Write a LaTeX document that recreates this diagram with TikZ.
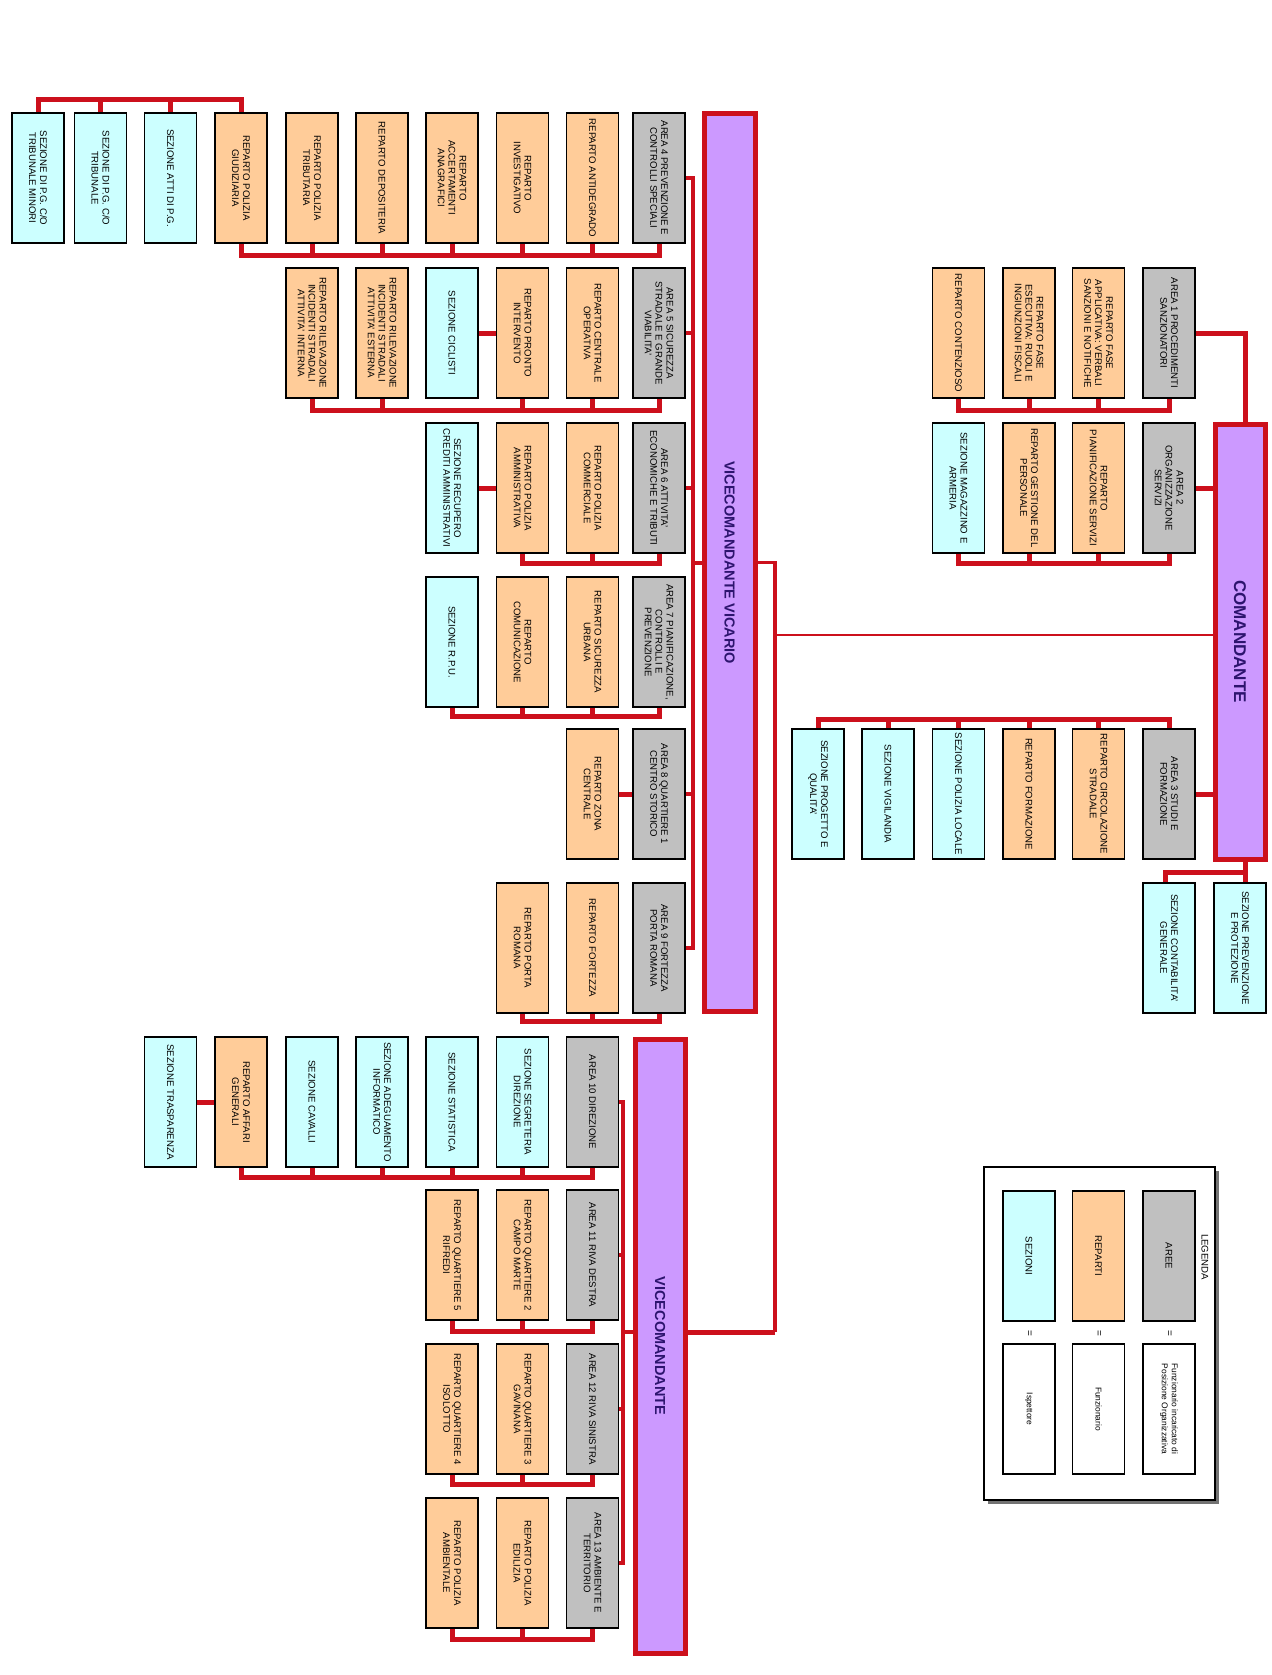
\documentclass[tikz,border=0pt]{standalone}
\usepackage{fontspec}
\setmainfont{Liberation Sans}
\usetikzlibrary{calc}
\definecolor{sezc}{RGB}{204,255,255}
\definecolor{repc}{RGB}{255,204,153}
\definecolor{areac}{RGB}{192,192,192}
\definecolor{vicc}{RGB}{204,153,255}
\definecolor{linec}{RGB}{204,16,28}
\definecolor{titc}{RGB}{45,20,110}
\pgfdeclarelayer{back}
\pgfdeclarelayer{bg}
\pgfsetlayers{back,bg,main}
\tikzset{
 unitbox/.style={draw=black, line width=1.2pt, minimum width=52pt, minimum height=130pt, inner sep=0pt},
 sez/.style={unitbox, fill=sezc},
 rep/.style={unitbox, fill=repc},
 area/.style={unitbox, fill=areac},
 blank/.style={unitbox, fill=white},
 txt/.style={rotate=-90, align=center, inner sep=0pt, font=\fontsize{9.6}{10.9}\selectfont, text=black},
 smalltxt/.style={txt, font=\fontsize{8.4}{10}\selectfont},
 bigbox/.style={draw=linec, fill=vicc, line width=5pt, inner sep=0pt},
 bigtxt/.style={rotate=-90, font=\bfseries\fontsize{14.5}{16}\selectfont, text=titc, inner sep=0pt},
 bus/.style={draw=linec, line width=5pt},
 link/.style={draw=linec, line width=3.4pt},
 thinlink/.style={draw=linec, line width=2.6pt},
 stub/.style={draw=linec, line width=4pt},
}
\newcommand{\bx}[5]{\node[#1] (#2) at (#3,#4) {}; \node[txt] (#2t) at (#2.center) {#5};}
\begin{document}
\begin{tikzpicture}[x=1pt,y=-1pt]
\useasboundingbox (0,0) rectangle (1271,1675);
\begin{pgfonlayer}{back}
\fill[white] (0,0) rectangle (1271,1675);
\end{pgfonlayer}

% ---------------- big boxes
\node[bigbox, minimum width=51pt, minimum height=897pt] (vic) at (729.5,562.5) {};
\node[bigtxt] (vict) at (vic.center) {VICECOMANDANTE VICARIO};
\node[bigbox, minimum width=50pt, minimum height=614pt] (vc) at (660,1346) {};
\node[bigtxt] (vct) at (vc.center) {VICECOMANDANTE};
\node[bigbox, minimum width=50pt, minimum height=435pt] (com) at (1240,641.5) {};
\node[bigtxt, font=\bfseries\fontsize{17}{19}\selectfont] (comt) at (com.center) {COMANDANTE};

% ---------------- row 1 (AREA 4)
\bx{sez}{r1c0}{38}{178}{SEZIONE DI P.G. C/O\\TRIBUNALE MINORI}
\bx{sez}{r1c1}{100.5}{178}{SEZIONE DI P.G. C/O\\TRIBUNALE}
\bx{sez}{r1c2}{170.5}{178}{SEZIONE ATTI DI P.G.}
\bx{rep}{r1c3}{241}{178}{REPARTO POLIZIA\\GIUDIZIARIA}
\bx{rep}{r1c4}{312}{178}{REPARTO POLIZIA\\TRIBUTARIA}
\bx{rep}{r1c5}{382}{178}{REPARTO DEPOSITERIA}
\bx{rep}{r1c6}{452}{178}{REPARTO\\ACCERTAMENTI\\ANAGRAFICI}
\bx{rep}{r1c7}{522.5}{178}{REPARTO\\INVESTIGATIVO}
\bx{rep}{r1c8}{592.5}{178}{REPARTO ANTIDEGRADO}
\bx{area}{a4}{659}{178}{AREA 4 PREVENZIONE E\\CONTROLLI SPECIALI}

% ---------------- row 2 (AREA 5)
\bx{rep}{r2c4}{312}{333}{REPARTO RILEVAZIONE\\INCIDENTI STRADALI\\ATTIVITA' INTERNA}
\bx{rep}{r2c5}{382}{333}{REPARTO RILEVAZIONE\\INCIDENTI STRADALI\\ATTIVITA' ESTERNA}
\bx{sez}{r2c6}{452}{333}{SEZIONE CICLISTI}
\bx{rep}{r2c7}{522.5}{333}{REPARTO PRONTO\\INTERVENTO}
\bx{rep}{r2c8}{592.5}{333}{REPARTO CENTRALE\\OPERATIVA}
\bx{area}{a5}{659}{333}{AREA 5 SICUREZZA\\STRADALE E GRANDE\\VIABILITA'}

% ---------------- row 3 (AREA 6)
\bx{sez}{r3c6}{452}{488}{SEZIONE RECUPERO\\CREDITI AMMINISTRATIVI}
\bx{rep}{r3c7}{522.5}{488}{REPARTO POLIZIA\\AMMINISTRATIVA}
\bx{rep}{r3c8}{592.5}{488}{REPARTO POLIZIA\\COMMERCIALE}
\bx{area}{a6}{659}{488}{AREA 6 ATTIVITA'\\ECONOMICHE E TRIBUTI}

% ---------------- row 4 (AREA 7)
\bx{sez}{r4c6}{452}{642}{SEZIONE R.P.U.}
\bx{rep}{r4c7}{522.5}{642}{REPARTO\\COMUNICAZIONE}
\bx{rep}{r4c8}{592.5}{642}{REPARTO SICUREZZA\\URBANA}
\bx{area}{a7}{659}{642}{AREA 7 PIANIFICAZIONE,\\CONTROLLI E\\PREVENZIONE}

% ---------------- row 5 (AREA 8)
\bx{rep}{r5c8}{592.5}{794}{REPARTO ZONA\\CENTRALE}
\bx{area}{a8}{659}{794}{AREA 8 QUARTIERE 1\\CENTRO STORICO}

% ---------------- row 6 (AREA 9)
\bx{rep}{r6c7}{522.5}{948}{REPARTO PORTA\\ROMANA}
\bx{rep}{r6c8}{592.5}{948}{REPARTO FORTEZZA}
\bx{area}{a9}{659}{948}{AREA 9 FORTEZZA\\PORTA ROMANA}

% ---------------- row A (AREA 10)
\bx{sez}{rac2}{170.5}{1102}{SEZIONE TRASPARENZA}
\bx{rep}{rac3}{241}{1102}{REPARTO AFFARI\\GENERALI}
\bx{sez}{rac4}{312}{1102}{SEZIONE CAVALLI}
\bx{sez}{rac5}{382}{1102}{SEZIONE ADEGUAMENTO\\INFORMATICO}
\bx{sez}{rac6}{452}{1102}{SEZIONE STATISTICA}
\bx{sez}{rac7}{522.5}{1102}{SEZIONE SEGRETERIA\\DIREZIONE}
\bx{area}{a10}{592.5}{1102}{AREA 10 DIREZIONE}

% ---------------- row B (AREA 11)
\bx{rep}{rbc6}{452}{1255}{REPARTO QUARTIERE 5\\RIFREDI}
\bx{rep}{rbc7}{522.5}{1255}{REPARTO QUARTIERE 2\\CAMPO MARTE}
\bx{area}{a11}{592.5}{1255}{AREA 11 RIVA DESTRA}

% ---------------- row C (AREA 12)
\bx{rep}{rcc6}{452}{1409}{REPARTO QUARTIERE 4\\ISOLOTTO}
\bx{rep}{rcc7}{522.5}{1409}{REPARTO QUARTIERE 3\\GAVINANA}
\bx{area}{a12}{592.5}{1409}{AREA 12 RIVA SINISTRA}

% ---------------- row D (AREA 13)
\bx{rep}{rdc6}{452}{1563}{REPARTO POLIZIA\\AMBIENTALE}
\bx{rep}{rdc7}{522.5}{1563}{REPARTO POLIZIA\\EDILIZIA}
\bx{area}{a13}{592.5}{1563}{AREA 13 AMBIENTE E\\TERRITORIO}

% ---------------- Comandante rows
\bx{rep}{k1c0}{958.5}{333}{REPARTO CONTENZIOSO}
\bx{rep}{k1c1}{1029}{333}{REPARTO FASE\\ESECUTIVA: RUOLI E\\INGIUNZIONI FISCALI}
\bx{rep}{k1c2}{1098.5}{333}{REPARTO FASE\\APPLICATIVA: VERBALI\\SANZIONI E NOTIFICHE}
\bx{area}{ka1}{1169}{333}{AREA 1 PROCEDIMENTI\\SANZIONATORI}

\bx{sez}{k2c0}{958.5}{488}{SEZIONE MAGAZZINO E\\ARMERIA}
\bx{rep}{k2c1}{1029}{488}{REPARTO GESTIONE DEL\\PERSONALE}
\bx{rep}{k2c2}{1098.5}{488}{REPARTO\\PIANIFICAZIONE SERVIZI}
\bx{area}{ka2}{1169}{488}{AREA 2\\ORGANIZZAZIONE\\SERVIZI}

\bx{sez}{k3c0}{818}{794}{SEZIONE PROGETTO E\\QUALITA'}
\bx{sez}{k3c1}{888}{794}{SEZIONE VIGILANDIA}
\bx{sez}{k3c2}{958.5}{794}{SEZIONE POLIZIA LOCALE}
\bx{rep}{k3c3}{1029}{794}{REPARTO FORMAZIONE}
\bx{rep}{k3c4}{1098.5}{794}{REPARTO CIRCOLAZIONE\\STRADALE}
\bx{area}{ka3}{1169}{794}{AREA 3 STUDI E\\FORMAZIONE}

\bx{sez}{scont}{1169}{948}{SEZIONE CONTABILITA'\\GENERALE}
\bx{sez}{sprev}{1240}{948}{SEZIONE PREVENZIONE\\E PROTEZIONE}

% ---------------- legend
\fill[black!55] (988,1171) rectangle (1219,1504);
\node[draw=black, line width=1.2pt, fill=white, minimum width=231pt, minimum height=333pt, inner sep=0pt] (leg) at (1099.5,1333.5) {};
\node[txt] (legt) at (1205,1257) {LEGENDA};
\bx{sez}{lsez}{1029}{1256}{SEZIONI}
\bx{rep}{lrep}{1098.5}{1256}{REPARTI}
\bx{area}{larea}{1169}{1256}{AREE}
\node[txt, font=\fontsize{10}{12}\selectfont] (eq1) at (1029,1333) {=};
\node[txt, font=\fontsize{10}{12}\selectfont] (eq2) at (1098.5,1333) {=};
\node[txt, font=\fontsize{10}{12}\selectfont] (eq3) at (1169,1333) {=};
\node[blank] (lb1) at (1029,1409) {};
\node[smalltxt] (lb1t) at (lb1.center) {Ispettore};
\node[blank] (lb2) at (1098.5,1409) {};
\node[smalltxt] (lb2t) at (lb2.center) {Funzionario};
\node[blank] (lb3) at (1169,1409) {};
\node[smalltxt] (lb3t) at (lb3.center) {Funzionario incaricato di\\Posizione Organizzativa};

% ---------------- connectors
\coordinate (vl) at (693,0);
\coordinate (wl) at (623,0);
\coordinate (jv) at (775,1332);
\coordinate (jc) at (775,635);
\begin{pgfonlayer}{bg}
% vicario spine
\draw[link] (a4.east) -- (a4.east -| vl) -- (a9.east -| vl) -- (a9.east);
\foreach \n in {a5,a6,a8} \draw[stub] (\n.east) -- (\n.east -| vl);
\draw[stub] (vic.west) -- (vic.west -| vl);
% vicecomandante spine
\draw[link] (a10.east) -- (a10.east -| wl) -- (a13.east -| wl) -- (a13.east);
\foreach \n in {a11,a12} \draw[stub] (\n.east) -- (\n.east -| wl);
\draw[stub] (jv -| wl) -- (jv -| vc.west);
% links between commanders
\draw[link] (vic.east) -| (jv);
\draw[bus] (jv) -- (jv -| vc.east);
\draw[thinlink] (jc) -- (jc -| com.west);
% row 1
\draw[bus] (r1c0.north) -- ++(0,-13) -| (r1c3.north);
\foreach \n in {r1c1,r1c2} \draw[bus] (\n.north) -- ++(0,-13);
\draw[bus] (r1c3.south) -- ++(0,12) -| (a4.south);
\foreach \n in {r1c4,r1c5,r1c6,r1c7,r1c8} \draw[bus] (\n.south) -- ++(0,12);
% row 2
\draw[bus] (r2c4.south) -- ++(0,12) -| (a5.south);
\foreach \n in {r2c5,r2c7,r2c8} \draw[bus] (\n.south) -- ++(0,12);
\draw[bus] (r2c6.east) -- (r2c7.west);
% row 3
\draw[bus] (r3c7.south) -- ++(0,10) -| (a6.south);
\draw[bus] (r3c8.south) -- ++(0,10);
\draw[bus] (r3c6.east) -- (r3c7.west);
% row 4
\draw[bus] (r4c6.south) -- ++(0,9) -| (a7.south);
\foreach \n in {r4c7,r4c8} \draw[bus] (\n.south) -- ++(0,9);
% row 5
\draw[bus] (r5c8.east) -- (a8.west);
% row 6
\draw[bus] (r6c7.south) -- ++(0,8) -| (a9.south);
\draw[bus] (r6c8.south) -- ++(0,8);
% row A
\draw[bus] (rac3.south) -- ++(0,10) -| (a10.south);
\foreach \n in {rac4,rac5,rac6,rac7} \draw[bus] (\n.south) -- ++(0,10);
\draw[bus] (rac2.east) -- (rac3.west);
% rows B C D
\draw[bus] (rbc6.south) -- ++(0,11) -| (a11.south);
\draw[bus] (rbc7.south) -- ++(0,11);
\draw[bus] (rcc6.south) -- ++(0,10) -| (a12.south);
\draw[bus] (rcc7.south) -- ++(0,10);
\draw[bus] (rdc6.south) -- ++(0,11) -| (a13.south);
\draw[bus] (rdc7.south) -- ++(0,11);
% comandante side
\draw[bus] (ka1.east) -| ([xshift=5pt]com.north);
\draw[bus] (ka2.east) -- (ka2.east -| com.west);
\draw[bus] (ka3.east) -- (ka3.east -| com.west);
\draw[bus] (k1c0.south) -- ++(0,12) -| (ka1.south);
\foreach \n in {k1c1,k1c2} \draw[bus] (\n.south) -- ++(0,12);
\draw[bus] (k2c0.south) -- ++(0,10) -| (ka2.south);
\foreach \n in {k2c1,k2c2} \draw[bus] (\n.south) -- ++(0,10);
\draw[bus] (k3c0.north) -- ++(0,-9) -| (ka3.north);
\foreach \n in {k3c1,k3c2,k3c3,k3c4} \draw[bus] (\n.north) -- ++(0,-9);
\draw[bus] ([xshift=5pt]com.south) -- ([xshift=5pt]sprev.north);
\draw[bus] ($([xshift=5pt]com.south)+(0,11)$) -| ([xshift=-4pt]scont.north);
\end{pgfonlayer}
\end{tikzpicture}
\end{document}
